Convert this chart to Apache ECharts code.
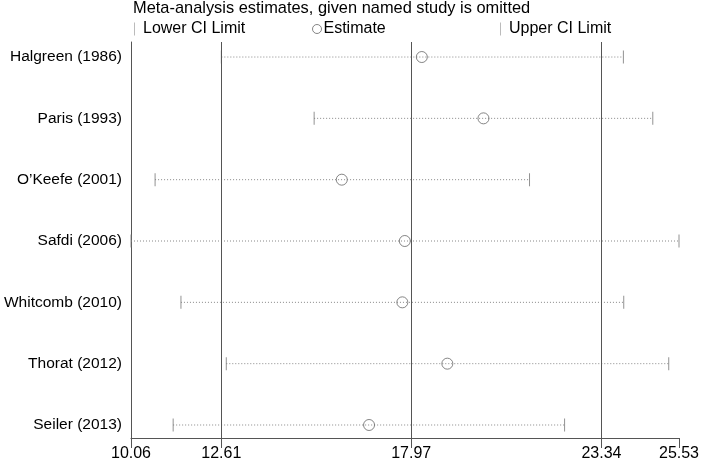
<!DOCTYPE html>
<html>
<head>
<meta charset="utf-8">
<script src="https://cdn.jsdelivr.net/npm/echarts@6/dist/echarts.min.js"></script>
<style>
  html, body { margin: 0; padding: 0; background: #fff; }
  #chart { width: 701px; height: 462px; }
</style>
</head>
<body>
<div id="chart"></div>
<script>
// studies, top to bottom
const studies = ['Halgreen (1986)', 'Paris (1993)', 'O\u2019Keefe (2001)', 'Safdi (2006)', 'Whitcomb (2010)', 'Thorat (2012)', 'Seiler (2013)'];
const lowerCI = [12.61, 15.23, 10.74, 10.06, 11.47, 12.75, 11.25];
const estimate = [18.27, 20.01, 16.01, 17.79, 17.72, 18.99, 16.78];
const upperCI = [23.96, 24.79, 21.31, 25.53, 23.97, 25.24, 22.30];
const xTicks = [10.06, 12.61, 17.97, 23.34, 25.53];
const refLines = [12.61, 17.97, 23.34];

const font = '"Liberation Sans", Arial, sans-serif';
const n = studies.length;
// row i sits at y = n-1-i (Halgreen on top)
const rowY = studies.map((s, i) => n - 1 - i);

var chart = echarts.init(document.getElementById('chart'));

var legendText = { fontFamily: font, fontSize: 16, color: '#000', padding: [0, 0, 0, 3] };

var option = {
  animation: false,
  title: {
    text: 'Meta-analysis estimates, given named study is omitted',
    left: 133,
    top: 0,
    padding: 0,
    textStyle: { fontFamily: font, fontSize: 16.4, fontWeight: 'normal', color: '#000' }
  },
  legend: [
    {
      data: ['Lower CI Limit'], left: 134, top: 21, padding: 0,
      icon: 'rect', itemWidth: 1, itemHeight: 13,
      itemStyle: { color: '#aaa' },
      textStyle: legendText
    },
    {
      data: ['Estimate'], left: 312, top: 21, padding: 0,
      icon: 'circle', itemWidth: 9, itemHeight: 9,
      itemStyle: { color: 'transparent', borderColor: '#666', borderWidth: 1 },
      textStyle: { fontFamily: font, fontSize: 16, color: '#000', padding: [0, 0, 0, -3] }
    },
    {
      data: ['Upper CI Limit'], left: 500, top: 21, padding: 0,
      icon: 'rect', itemWidth: 1, itemHeight: 13,
      itemStyle: { color: '#aaa' },
      textStyle: legendText
    }
  ],
  grid: { left: 131, right: 22, top: 42, bottom: 24, outerBoundsMode: 'none' },
  xAxis: {
    type: 'value',
    min: 10.06,
    max: 25.53,
    splitLine: { show: false },
    axisLine: { onZero: false, lineStyle: { color: '#555', width: 1 } },
    axisTick: { show: true, length: 10, customValues: xTicks, lineStyle: { color: '#555' } },
    axisLabel: {
      customValues: xTicks,
      margin: 8,
      fontFamily: font, fontSize: 16, color: '#000',
      formatter: v => v.toFixed(2)
    }
  },
  yAxis: {
    type: 'value',
    min: -0.212,
    max: 6.245,
    splitLine: { show: false },
    axisLine: { show: true, onZero: false, lineStyle: { color: '#555', width: 1 } },
    axisTick: { show: false },
    axisLabel: {
      customValues: rowY,
      margin: 9,
      fontFamily: font, fontSize: 15.5, color: '#000',
      formatter: v => studies[n - 1 - Math.round(v)]
    }
  },
  series: [
    {
      // dotted CI line
      type: 'custom',
      silent: true,
      data: studies.map((s, i) => [lowerCI[i], upperCI[i], rowY[i]]),
      encode: { x: [0, 1], y: 2 },
      renderItem: function (params, api) {
        const p1 = api.coord([api.value(0), api.value(2)]);
        const p2 = api.coord([api.value(1), api.value(2)]);
        return {
          type: 'line',
          shape: { x1: p1[0], y1: p1[1], x2: p2[0], y2: p2[1] },
          style: { stroke: '#888', lineWidth: 1, lineDash: [1, 2] }
        };
      },
      markLine: {
        silent: true,
        symbol: 'none',
        label: { show: false },
        lineStyle: { color: '#555', width: 1, type: 'solid' },
        data: refLines.map(v => ({ xAxis: v }))
      }
    },
    {
      name: 'Lower CI Limit',
      type: 'scatter',
      symbol: 'rect',
      symbolSize: [1, 13],
      itemStyle: { color: '#777' },
      data: studies.map((s, i) => [lowerCI[i], rowY[i]])
    },
    {
      name: 'Upper CI Limit',
      type: 'scatter',
      symbol: 'rect',
      symbolSize: [1, 13],
      itemStyle: { color: '#777' },
      data: studies.map((s, i) => [upperCI[i], rowY[i]])
    },
    {
      name: 'Estimate',
      type: 'scatter',
      symbol: 'circle',
      symbolSize: 11,
      itemStyle: { color: 'transparent', borderColor: '#666', borderWidth: 1 },
      data: studies.map((s, i) => [estimate[i], rowY[i]])
    }
  ]
};

chart.setOption(option);
</script>
</body>
</html>
